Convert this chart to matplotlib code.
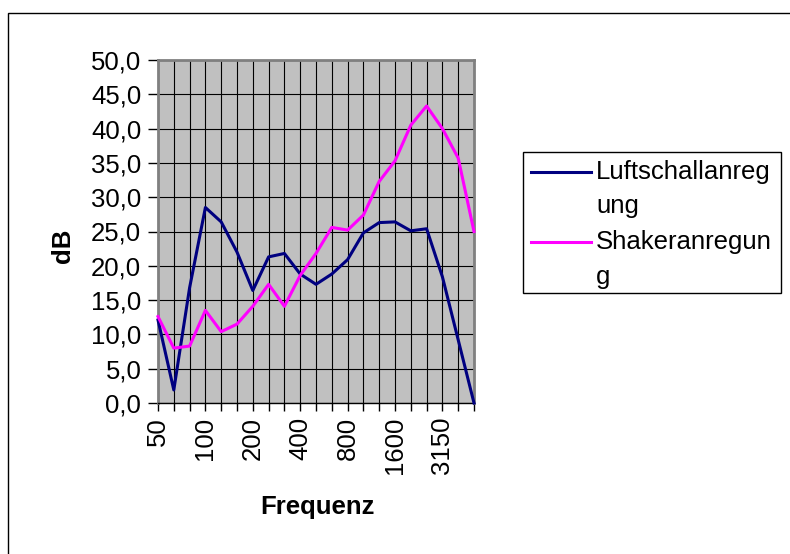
import numpy as np
import matplotlib
matplotlib.use('Agg')
import matplotlib.pyplot as plt
from matplotlib.patches import Rectangle
from matplotlib.lines import Line2D

# Terzband-Mittenfrequenzen (Hz) und gemessene Pegel in dB
frequenzen = ['50', '63', '80', '100', '125', '160', '200', '250', '315', '400',
              '500', '630', '800', '1000', '1250', '1600', '2000', '2500',
              '3150', '4000', '5000']
luftschall = [12.1, 1.9, 16.8, 28.5, 26.4, 22.0, 16.4, 21.3, 21.8, 18.8,
              17.3, 18.8, 20.9, 24.8, 26.3, 26.4, 25.1, 25.4, 18.4, 9.2, 0.0]
shaker = [12.6, 8.0, 8.3, 13.5, 10.4, 11.5, 14.1, 17.3, 14.1, 18.6,
          21.8, 25.6, 25.2, 27.4, 32.3, 35.3, 40.5, 43.3, 40.0, 35.7, 25.0]
labels = ['Luftschallanreg\nung', 'Shakeranregun\ng']
colors = ['#000080', '#FF00FF']
y_ticks = [0, 5, 10, 15, 20, 25, 30, 35, 40, 45, 50]

W, H = 790, 554
plt.rcParams['font.family'] = 'Liberation Sans'
plt.rcParams['font.size'] = 18.5

fig = plt.figure(figsize=(W / 100, H / 100), dpi=100)
fig.patch.set_facecolor('white')

# Rahmen des Diagrammbereichs (rechts/unten abgeschnitten)
fig.patches.append(Rectangle((8 / W, -0.1), 1.2, 1 - 13 / H + 0.1, transform=fig.transFigure,
                             fill=False, ec='black', lw=1))

ax = fig.add_axes([158 / W, 1 - 403 / H, 316 / W, 343 / H])
ax.set_facecolor('#C0C0C0')

x = np.arange(len(frequenzen))
ax.plot(x, luftschall, color=colors[0], lw=2.2, clip_on=False, zorder=3)
ax.plot(x, shaker, color=colors[1], lw=2.2, clip_on=False, zorder=3)

ax.set_xlim(0, len(frequenzen) - 1)
ax.set_ylim(0, 50)
ax.set_xticks(x)
ax.set_xticklabels([f if i % 3 == 0 else '' for i, f in enumerate(frequenzen)], rotation=90)
ax.set_yticks(y_ticks)
ax.set_yticklabels([('%.1f' % v).replace('.', ',') for v in y_ticks])
ax.tick_params(axis='x', direction='out', length=6, width=1, pad=4, color='black')
ax.tick_params(axis='y', direction='out', length=7, width=1, pad=5, color='black')

ax.grid(True, color='black', lw=0.8)
ax.set_axisbelow(True)
for side in ['top', 'right', 'left']:
    ax.spines[side].set_color('#808080')
    ax.spines[side].set_linewidth(2)
ax.spines['bottom'].set_color('black')
ax.spines['bottom'].set_linewidth(1)

fig.text(63 / W, 1 - 246 / H, 'dB', rotation=90, ha='center', va='center', fontweight='bold')
fig.text(317 / W, 1 - 507 / H, 'Frequenz', ha='center', va='center', fontweight='bold')

# Legende wie in Excel: Linie neben der ersten Textzeile
fig.patches.append(Rectangle((522.7 / W, 1 - 293.3 / H), 258 / W, 141.6 / H,
                             transform=fig.transFigure, fc='white', ec='black', lw=1))
for i, (lab, col) in enumerate(zip(labels, colors)):
    yl = 171.7 + i * 70.6
    fig.add_artist(Line2D([530.7 / W, 591 / W], [1 - yl / H, 1 - yl / H], color=col, lw=2.2,
                          transform=fig.transFigure))
    fig.text(596 / W, 1 - (yl - 12) / H, lab, va='top', ha='left', linespacing=1.55)

fig.savefig('out.png', dpi=100)
